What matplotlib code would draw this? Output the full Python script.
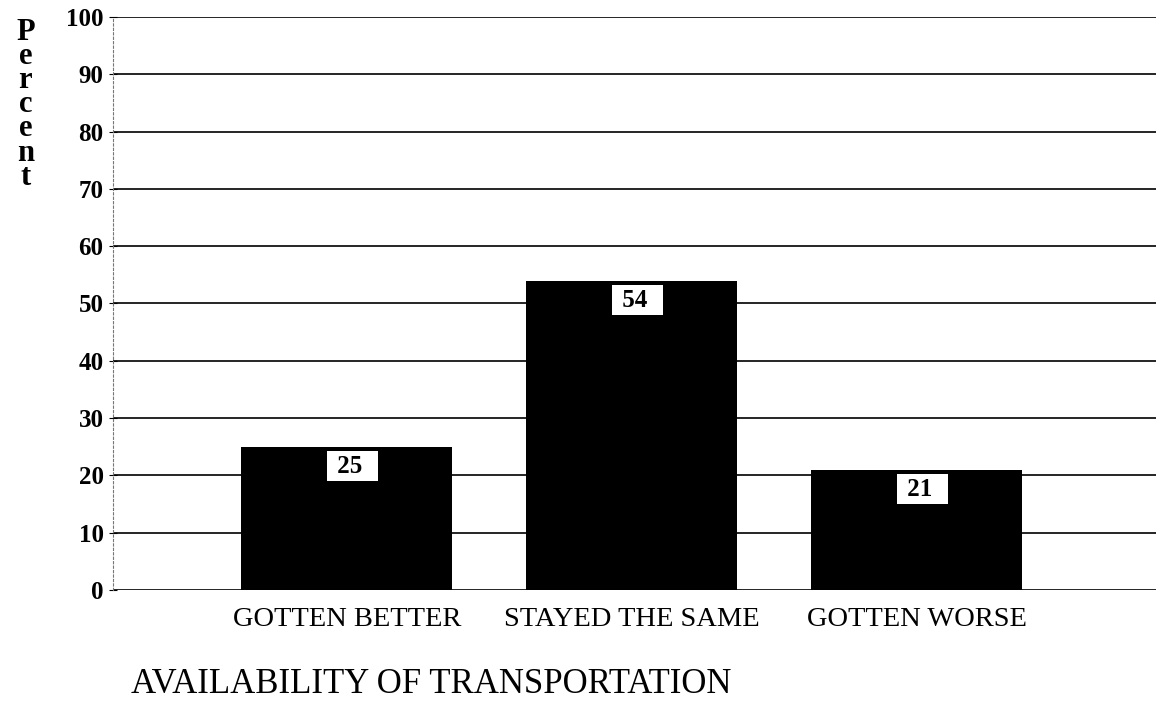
import matplotlib.pyplot as plt

categories = ['GOTTEN BETTER', 'STAYED THE SAME', 'GOTTEN WORSE']
percents = [25, 54, 21]
yticks = list(range(0, 101, 10))

plt.rcParams['font.family'] = ['Liberation Serif', 'DejaVu Serif']

fig = plt.figure(figsize=(11.56, 7.09), dpi=100)
ax = fig.add_axes([0.098, 0.168, 0.902, 0.808])

x = list(range(len(categories)))
ax.bar(x, percents, width=0.74, color='black', zorder=3)

# gridlines drawn as black rules at each tick
for t in yticks:
    ax.axhline(t, color='black', lw=1.2, zorder=1)

ax.set_xlim(-0.82, 2.84)
ax.set_ylim(0, 100)
ax.set_yticks(yticks)
ax.set_yticklabels([str(t) for t in yticks], fontsize=18, fontweight='bold')
ax.tick_params(axis='y', direction='inout', length=6, pad=4)
ax.set_xticks(x)
ax.set_xticklabels(categories, fontsize=20.5)
ax.tick_params(axis='x', length=0, pad=12)

for s in ['top', 'right', 'bottom']:
    ax.spines[s].set_visible(False)
ax.spines['left'].set_linestyle((0, (2, 2)))
ax.spines['left'].set_color('#777777')
ax.spines['left'].set_linewidth(0.8)

for xi, v in zip(x, percents):
    ax.text(xi + 0.02, v - 3.4, f' {v}  ', ha='center', va='center',
            fontsize=18, fontweight='bold', color='black', zorder=4,
            bbox=dict(boxstyle='square,pad=0.15', fc='white', ec='none'))

fig.text(0.022, 0.975, 'P\ne\nr\nc\ne\nn\nt', ha='center', va='top',
         fontsize=22, fontweight='bold', linespacing=0.78)
fig.text(0.113, 0.034, 'AVAILABILITY OF TRANSPORTATION', ha='left', va='center',
         fontsize=25)

fig.savefig('out.png', dpi=100)
